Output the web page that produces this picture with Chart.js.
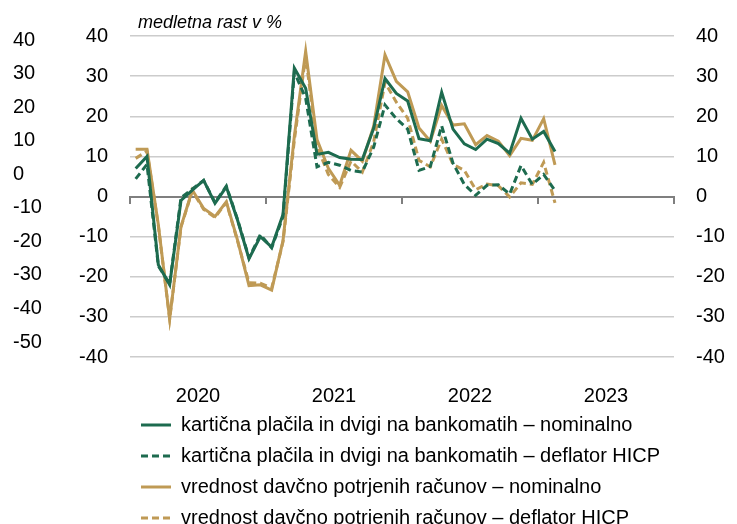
<!DOCTYPE html>
<html>
<head>
<meta charset="utf-8">
<script src="https://cdn.jsdelivr.net/npm/chart.js@4.4.0/dist/chart.umd.min.js"></script>
<style>
  html, body { margin: 0; padding: 0; background: #fff; }
  #wrap { width: 737px; height: 524px; }
</style>
</head>
<body>
<div id="wrap"><canvas id="growthChart"></canvas></div>
<script>
// year labels on the x axis, data runs monthly from Jan 2020
const years = ['2020', '2021', '2022', '2023'];
const monthNames = ['01', '02', '03', '04', '05', '06', '07', '08', '09', '10', '11', '12'];

// kartična plačila in dvigi na bankomatih (y/y %)
const cardNominal = [
  7, 10, -17, -22, -1, 1.6, 4, -1.7, 2.4, -6, -15.5, -10,
  -12.6, -4.5, 32, 27, 10.5, 11, 9.7, 9.3, 9.2, 17, 29.4, 25.7,
  23.8, 14.4, 13.9, 26, 16.8, 13.1, 11.7, 14.3, 13.2, 10.8, 19.5, 14.3,
  16.2, 11.2
];
const cardDeflated = [
  4.4, 8, -17.3, -21.8, -0.3, 1.9, 4, -1.5, 2.6, -5.8, -15.3, -9.5,
  -12.8, -5, 31, 24.5, 7.4, 8.5, 7.8, 6.5, 6.1, 12.3, 22.8, 19.4,
  16.8, 6.5, 7.5, 17.6, 8.3, 3, 0.3, 2.8, 2.9, 0.6, 7.7, 3,
  5.5, 1.5
];
// vrednost davčno potrjenih računov (y/y %)
const invoiceNominal = [
  11.8, 11.8, -7, -30.5, -7.5, 1.6, -3, -5, -1.3, -11, -22.2, -22,
  -23.3, -11, 15, 36.2, 14.2, 7, 2.8, 11.5, 8.8, 17.5, 35.3, 28.7,
  26.1, 17.1, 13.8, 22.7, 17.8, 18.1, 12.9, 15.2, 13.8, 10.2, 14.5, 14,
  19.4, 7.9
];
const invoiceDeflated = [
  9.5, 11.3, -7.3, -30.5, -7.6, 1.4, -3.2, -5.2, -1.5, -11.2, -21.5, -21.6,
  -22.8, -11.3, 14, 35, 12.5, 5.5, 2.3, 8.8, 6.1, 13.6, 28.4, 23.5,
  19.5, 9, 7.4, 14.3, 8, 6.5, 1.7, 3.1, 2.7, -0.1, 3.4, 3,
  8.5, -1.6
];

const seriesLabels = [
  'kartična plačila in dvigi na bankomatih – nominalno',
  'kartična plačila in dvigi na bankomatih – deflator HICP',
  'vrednost davčno potrjenih računov – nominalno',
  'vrednost davčno potrjenih računov – deflator HICP'
];

const months = years.flatMap((y) => monthNames.map((m) => y + '-' + m));

const GREEN = '#1d6b4f';
const GOLD = '#bf9a55';
const FONT = "'Liberation Sans', Arial, sans-serif";

const tickFont = { family: FONT, size: 20 };

// italic unit note over the top-left of the plot
const unitNote = {
  id: 'unitNote',
  afterDraw(chart) {
    const { ctx, chartArea } = chart;
    ctx.save();
    ctx.font = "italic 18px " + FONT;
    ctx.fillStyle = '#000';
    ctx.textBaseline = 'alphabetic';
    ctx.fillText('medletna rast v %', chartArea.left + 8, 28);
    ctx.restore();
  }
};

// legend starts at the plot's left edge but may run past its right edge
const widenLegend = {
  id: 'widenLegend',
  afterLayout(chart) {
    const lg = chart.legend;
    if (!lg) return;
    lg.right = chart.width;
    lg.width = lg.right - lg.left;
    lg.bottom = chart.height + 40;
    lg.height = lg.bottom - lg.top;
  }
};

const makeSet = (label, data, color, dashed) => ({
  label: label,
  data: data,
  borderColor: color,
  backgroundColor: color,
  borderWidth: 3,
  borderDash: dashed ? [7, 4] : [],
  pointRadius: 0,
  tension: 0,
  fill: false,
  xAxisID: 'x',
  yAxisID: 'y'
});

new Chart(document.getElementById('growthChart'), {
  type: 'line',
  data: {
    labels: months,
    datasets: [
      makeSet(seriesLabels[0], cardNominal, GREEN, false),
      makeSet(seriesLabels[1], cardDeflated, GREEN, true),
      makeSet(seriesLabels[2], invoiceNominal, GOLD, false),
      makeSet(seriesLabels[3], invoiceDeflated, GOLD, true)
    ]
  },
  options: {
    responsive: true,
    maintainAspectRatio: false,
    animation: false,
    layout: { padding: { left: 13, right: 0, top: 36, bottom: -14 } },
    plugins: {
      title: { display: false },
      tooltip: { enabled: false },
      legend: {
        position: 'bottom',
        align: 'start',
        fullSize: false,
        labels: {
          usePointStyle: true,
          pointStyle: 'line',
          pointStyleWidth: 30,
          boxHeight: 10,
          padding: 11,
          color: '#000',
          font: { family: FONT, size: 20 },
          generateLabels: (chart) => {
            const items = Chart.defaults.plugins.legend.labels.generateLabels(chart);
            items.forEach((item) => {
              const ds = chart.data.datasets[item.datasetIndex];
              item.lineDash = ds.borderDash;
              item.lineWidth = ds.borderWidth;
              item.strokeStyle = ds.borderColor;
              item.pointStyle = 'line';
            });
            return items;
          }
        }
      }
    },
    scales: {
      x: {
        type: 'category',
        display: false,
        offset: true
      },
      xYears: {
        type: 'category',
        labels: years,
        position: 'bottom',
        offset: true,
        grid: { display: false },
        border: { display: false },
        ticks: { color: '#000', font: tickFont, padding: 19, maxRotation: 0 },
        afterFit: (scale) => { scale.height = 47; }
      },
      xZero: {
        type: 'linear',
        position: { y: 0 },
        min: 0,
        max: months.length,
        ticks: { display: false, stepSize: 12 },
        grid: { drawOnChartArea: false, drawTicks: true, tickLength: 6, color: '#7f7f7f', lineWidth: 2 },
        border: { display: true, color: '#7f7f7f', width: 2 }
      },
      y: {
        position: 'left',
        weight: 0,
        min: -40,
        max: 40,
        ticks: { stepSize: 10, color: '#000', font: tickFont, padding: 22 },
        grid: {
          drawTicks: false,
          lineWidth: 1.5,
          color: (c) => (c.tick && c.tick.value === 0 ? '#7f7f7f' : '#cccccc')
        },
        border: { display: false },
        afterFit: (scale) => { scale.width = 56; }
      },
      yOuter: {
        position: 'left',
        weight: 10,
        min: -54.45,
        max: 41.2,
        ticks: { stepSize: 10, includeBounds: false, color: '#000', font: tickFont, crossAlign: 'far' },
        grid: { display: false, drawTicks: false },
        border: { display: false },
        afterFit: (scale) => { scale.width = 61; }
      },
      yRight: {
        position: 'right',
        min: -40,
        max: 40,
        ticks: { stepSize: 10, color: '#000', font: tickFont, padding: 22 },
        grid: { display: false, drawTicks: false },
        border: { display: false },
        afterFit: (scale) => { scale.width = 63; }
      }
    }
  },
  plugins: [unitNote, widenLegend]
});
</script>
</body>
</html>
